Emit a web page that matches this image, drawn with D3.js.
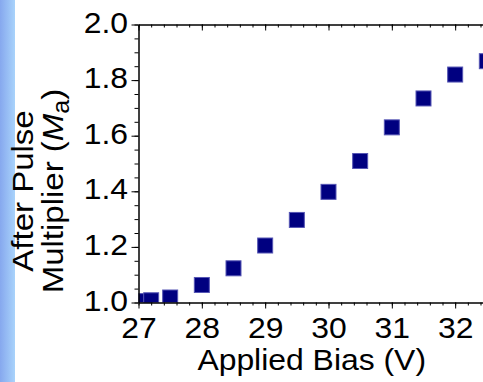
<!DOCTYPE html>
<html>
<head>
<meta charset="utf-8">
<script src="https://cdn.jsdelivr.net/npm/d3@7"></script>
<style>
  body { margin: 0; background: #fff; }
  svg { display: block; }
  text { font-family: "Liberation Sans", Arial, sans-serif; fill: #000; }
</style>
</head>
<body>
<div id="wrapper"></div>
<script>
// data
const biasValues = [27.1, 27.2, 27.5, 28, 28.5, 29, 29.5, 30, 30.5, 31, 31.5, 32, 32.5]
const multValues = [1.005, 1.008, 1.018, 1.063, 1.123, 1.205, 1.297, 1.398, 1.509, 1.630, 1.734, 1.820, 1.868]
const xTickValues = [27, 28, 29, 30, 31, 32]
const yTickValues = [1.0, 1.2, 1.4, 1.6, 1.8, 2.0]
const xLabel = "Applied Bias (V)"
const yLabelTop = "After Pulse"

function drawChart() {
  const points = biasValues.map((v, i) => ({ bias: v, mult: multValues[i] }))

  const dimensions = {
    width: 483,
    height: 382,
    plotLeft: 138.5,
    plotTop: 24.5,
    plotBottom: 302.5,
    plotRight: 518.5,
  }
  const stretch = 1.1   // glyphs in the reference are a bit wider than Arial

  const wrapper = d3.select("#wrapper")
    .append("svg")
    .attr("width", dimensions.width)
    .attr("height", dimensions.height)

  const defs = wrapper.append("defs")
  const grad = defs.append("linearGradient").attr("id", "strip")
    .attr("x1", "0%").attr("x2", "100%")
  grad.append("stop").attr("offset", "0%").attr("stop-color", "#86a8ee")
  grad.append("stop").attr("offset", "100%").attr("stop-color", "#a9d3fb")

  defs.append("clipPath").attr("id", "plotclip")
    .append("rect")
      .attr("x", dimensions.plotLeft)
      .attr("y", dimensions.plotTop)
      .attr("width", dimensions.plotRight - dimensions.plotLeft)
      .attr("height", dimensions.plotBottom - dimensions.plotTop)

  // blue strip at the left edge
  wrapper.append("rect")
    .attr("x", 0).attr("y", 0)
    .attr("width", 15).attr("height", dimensions.height)
    .attr("fill", "url(#strip)")

  const xScale = d3.scaleLinear()
    .domain([27, 33])
    .range([dimensions.plotLeft, dimensions.plotRight])

  const yScale = d3.scaleLinear()
    .domain([1, 2])
    .range([dimensions.plotBottom, dimensions.plotTop])

  const xMinor = d3.range(27, 33.01, 0.2).map((d) => +d.toFixed(1))
  const yMinor = d3.range(1, 2.001, 0.05).map((d) => +d.toFixed(2))

  // squares
  const size = 16
  wrapper.append("g")
    .attr("clip-path", "url(#plotclip)")
    .selectAll("rect")
    .data(points)
    .enter().append("rect")
      .attr("x", (d) => xScale(d.bias) - size / 2 + 0.5)
      .attr("y", (d) => yScale(d.mult) - size / 2 + 0.5)
      .attr("width", size - 1)
      .attr("height", size - 1)
      .attr("fill", "#000080")
      .attr("stroke", "#5656b4")
      .attr("stroke-width", 1)

  // bottom axis
  const xAxis = wrapper.append("g")
    .attr("transform", `translate(0, ${dimensions.plotBottom})`)
    .call(d3.axisBottom(xScale).tickValues(xTickValues).tickSize(6).tickSizeOuter(0).tickFormat(d3.format("d")))
  xAxis.selectAll("text")
    .attr("y", 36).attr("dy", null)
    .attr("transform", `scale(${stretch},1)`)
    .style("font-size", "29px")
  wrapper.append("g")
    .attr("transform", `translate(0, ${dimensions.plotBottom})`)
    .call(d3.axisBottom(xScale).tickValues(xMinor).tickSize(3).tickSizeOuter(0).tickFormat(""))

  // top axis, ticks inside
  wrapper.append("g")
    .attr("transform", `translate(0, ${dimensions.plotTop})`)
    .call(d3.axisTop(xScale).tickValues(xTickValues).tickSize(-6).tickSizeOuter(0).tickFormat(""))
  wrapper.append("g")
    .attr("transform", `translate(0, ${dimensions.plotTop})`)
    .call(d3.axisTop(xScale).tickValues(xMinor).tickSize(-3).tickSizeOuter(0).tickFormat(""))

  // left axis
  const yAxis = wrapper.append("g")
    .attr("transform", `translate(${dimensions.plotLeft}, 0)`)
    .call(d3.axisLeft(yScale).tickValues(yTickValues).tickSize(7).tickSizeOuter(0).tickFormat(d3.format(".1f")))
  yAxis.selectAll("text")
    .attr("x", -10.5 / stretch).attr("dy", null).attr("y", 7.6)
    .attr("transform", `scale(${stretch},1)`)
    .style("font-size", "29px")
  wrapper.append("g")
    .attr("transform", `translate(${dimensions.plotLeft}, 0)`)
    .call(d3.axisLeft(yScale).tickValues(yMinor).tickSize(4).tickSizeOuter(0).tickFormat(""))

  wrapper.selectAll(".domain").attr("stroke", "#000")
  wrapper.selectAll(".tick line").attr("stroke", "#000")

  // axis titles
  wrapper.append("text")
    .attr("transform", `translate(311.7, 370) scale(${stretch},1)`)
    .attr("text-anchor", "middle")
    .style("font-size", "29px")
    .text(xLabel)

  wrapper.append("text")
    .attr("transform", `translate(33.3, 191) rotate(-90) scale(${stretch},1)`)
    .attr("text-anchor", "middle")
    .style("font-size", "30px")
    .text(yLabelTop)

  const line2 = wrapper.append("text")
    .attr("transform", `translate(63.3, 191) rotate(-90) scale(${stretch},1)`)
    .attr("text-anchor", "middle")
    .style("font-size", "30px")
  line2.append("tspan").text("Multiplier (")
  line2.append("tspan").style("font-style", "italic").text("M")
  line2.append("tspan").attr("dy", 6).style("font-size", "23px").text("a")
  line2.append("tspan").attr("dy", -6).text(")")
}

drawChart()
</script>
</body>
</html>
